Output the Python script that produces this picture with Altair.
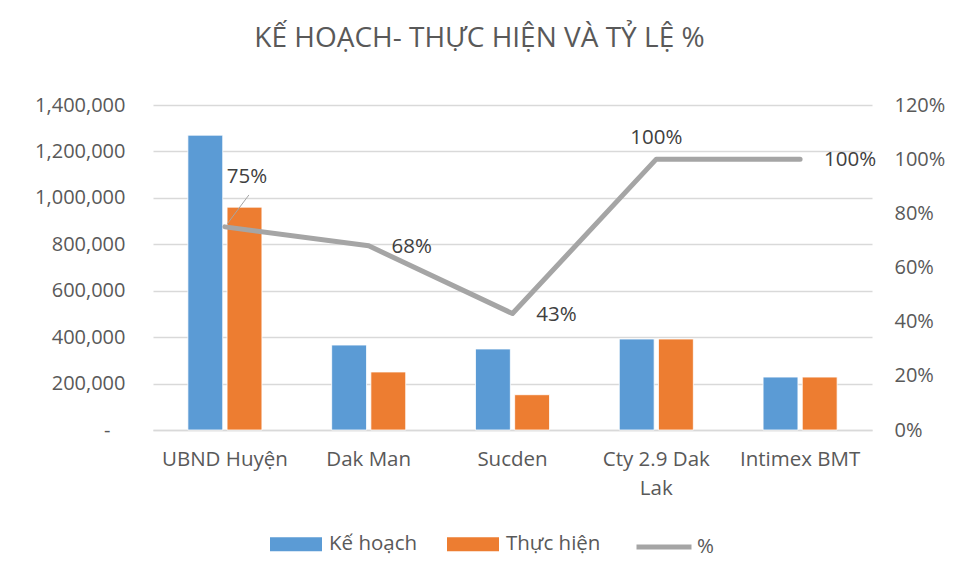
import altair as alt
import pandas as pd

categories = ["UBND Huyện", "Dak Man", "Sucden", "Cty 2.9 Dak Lak", "Intimex BMT"]
ke_hoach = [1270000, 366000, 349000, 392000, 228000]
thuc_hien = [960000, 250000, 152000, 392000, 228000]
ty_le = [0.75, 0.68, 0.43, 1.00, 1.00]
series = ["Kế hoạch", "Thực hiện"]
line_name = "%"
left_ticks = [0, 200000, 400000, 600000, 800000, 1000000, 1200000, 1400000]
right_ticks = [0, 0.2, 0.4, 0.6, 0.8, 1.0, 1.2]

bars_df = pd.DataFrame({
    "cat": categories * 2,
    "series": [series[0]] * len(categories) + [series[1]] * len(categories),
    "value": ke_hoach + thuc_hien,
})
line_df = pd.DataFrame({"cat": categories, "pct": ty_le, "name": line_name})

FONT = "Open Sans"
TXT = "#595959"
GRID = "#D9D9D9"
FS = 20

x_enc = alt.X(
    "cat:N", sort=categories, title=None,
    scale=alt.Scale(paddingInner=0.485, paddingOuter=0.2425),
    axis=alt.Axis(
        labelAngle=0, labelFont=FONT, labelFontSize=20.5, labelColor=TXT,
        labelPadding=19, ticks=False, domainColor=GRID, domainWidth=1.5,
        labelExpr="datum.label == 'Cty 2.9 Dak Lak' ? ['Cty 2.9 Dak', 'Lak'] : datum.label",
        labelLineHeight=29, labelLimit=220,
    ),
)

bars = alt.Chart(bars_df).mark_bar(stroke="white", strokeWidth=0.8).encode(
    x=x_enc,
    xOffset=alt.XOffset("series:N", sort=series, scale=alt.Scale(paddingInner=0.11)),
    y=alt.Y(
        "value:Q", title=None, scale=alt.Scale(domain=[0, 1400000]),
        axis=alt.Axis(
            values=left_ticks, grid=True, gridColor=GRID, gridWidth=1.5,
            domain=False, ticks=False, labelFont=FONT, labelPadding=28,
            labelFontSize=FS, labelColor=TXT,
            labelExpr="datum.value == 0 ? '-\u2800' : format(datum.value, ',')",
        ),
    ),
    color=alt.Color(
        "series:N", sort=series,
        scale=alt.Scale(domain=series, range=["#5B9BD5", "#ED7D31"]),
        legend=alt.Legend(
            title=None, orient="none", direction="horizontal",
            legendX=117, legendY=413,
            symbolType="M-1,-0.27H1V0.27H-1Z", symbolSize=2704,
            symbolStrokeWidth=0, labelFont=FONT, labelFontSize=20.5,
            labelColor=TXT, labelOffset=7, columnPadding=29,
        ),
    ),
)

y_pct = alt.Y(
    "pct:Q", title=None, scale=alt.Scale(domain=[0, 1.2]),
    axis=alt.Axis(
        orient="right", format=".0%", values=right_ticks, grid=False,
        domain=False, ticks=False, labelPadding=22, labelFont=FONT,
        labelFontSize=FS, labelColor=TXT,
    ),
)
y_pct_noaxis = alt.Y("pct:Q", title=None, scale=alt.Scale(domain=[0, 1.2]), axis=None)

line = alt.Chart(line_df).mark_line(strokeWidth=5, strokeCap="round", strokeJoin="round").encode(
    x=x_enc,
    y=y_pct,
    stroke=alt.Stroke(
        "name:N", scale=alt.Scale(domain=[line_name], range=["#A5A5A5"]),
        legend=alt.Legend(
            title=None, orient="none", legendX=481, legendY=412,
            symbolType="stroke", symbolSize=3025,
            symbolStrokeWidth=5, labelFont=FONT, labelFontSize=20.5,
            labelColor=TXT, labelOffset=3,
        ),
    ),
)

leader = alt.Chart(line_df).transform_filter(
    alt.datum.cat == categories[0]
).mark_point(
    shape="M0.1,-0.13L1,-1.33", size=2304, filled=False,
    stroke="#A5A5A5", strokeWidth=1, opacity=1,
).encode(x=x_enc, y=y_pct_noaxis)

label_offsets = {
    categories[0]: (22, -50),
    categories[1]: (43, 1),
    categories[2]: (44, 1),
    categories[3]: (0, -21),
    categories[4]: (50, 1),
}

labels = []
for cat, (dx, dy) in label_offsets.items():
    labels.append(
        alt.Chart(line_df).transform_filter(alt.datum.cat == cat).mark_text(
            font=FONT, fontSize=20.5, color="#404040", dx=dx, dy=dy,
        ).encode(x=x_enc, y=y_pct_noaxis, text=alt.Text("pct:Q", format=".0%"))
    )

chart = alt.layer(bars, line, leader, *labels).resolve_scale(
    y="independent"
).properties(
    width=719, height=325,
    autosize=alt.AutoSizeParams(type="none"),
    padding={"left": 145, "top": 97, "right": 75, "bottom": 135},
    title=alt.Title(
        "KẾ HOẠCH- THỰC HIỆN VÀ TỶ LỆ %", font=FONT, fontSize=28,
        fontWeight="normal", color=TXT, anchor="middle", frame="group",
        dx=-33, offset=42,
    ),
).configure(background="white").configure_view(stroke=None)

chart.save("out.html", embed_options={"renderer": "svg", "actions": False})
